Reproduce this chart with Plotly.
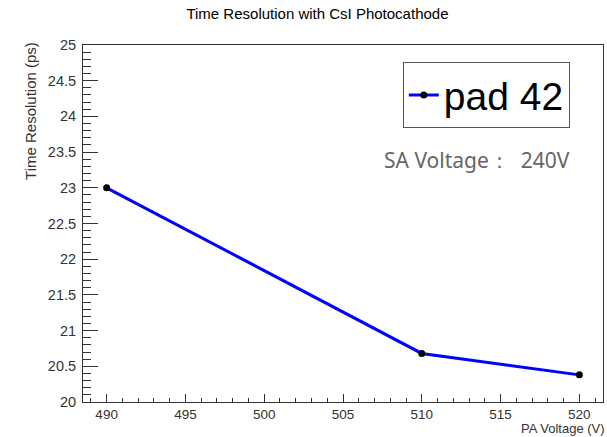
import plotly.graph_objects as go

pa_voltage = [490, 510, 520]
time_resolution = [23.0, 20.68, 20.38]
series_name = "pad 42"
title_text = "Time Resolution with CsI Photocathode"
x_title = "PA Voltage (V)"
y_title = "Time Resolution (ps)"
note_text = "SA Voltage：  240V"

fig = go.Figure()
fig.add_trace(go.Scatter(
    x=pa_voltage, y=time_resolution, mode="lines+markers", name=series_name,
    line=dict(color="#0000ff", width=3),
    marker=dict(color="black", size=7),
))

axis_font = dict(family="Liberation Sans, Arial, sans-serif", size=14.5, color="#333333")
fig.update_layout(
    width=607, height=437,
    margin=dict(l=83, r=4, t=45, b=35),
    paper_bgcolor="white", plot_bgcolor="white",
    showlegend=True,
    legend=dict(
        x=0.615, y=0.952, xanchor="left", yanchor="top",
        bordercolor="#555555", borderwidth=1, bgcolor="white",
        font=dict(family="Liberation Sans, Arial, sans-serif", size=39, color="black"),
        itemwidth=30, tracegroupgap=0,
    ),
    title=dict(text=title_text, x=0.523, xanchor="center", y=0.968, yanchor="middle",
               font=dict(family="Liberation Sans, Arial, sans-serif", size=15, color="black")),
    xaxis=dict(
        range=[488.5, 521.5], dtick=5, tick0=490,
        ticks="inside", ticklen=8, tickcolor="#333333",
        minor=dict(ticks="inside", dtick=1, ticklen=4, tickcolor="#333333"),
        showline=True, linecolor="#333333", linewidth=1, mirror=True,
        showgrid=False, zeroline=False,
        tickfont=dict(family="Liberation Sans, Arial, sans-serif", size=13.5, color="#333333"),
        ticklabelstandoff=0,
    ),
    yaxis=dict(
        range=[20, 25], dtick=0.5, tick0=20,
        ticks="inside", ticklen=15, tickcolor="#333333",
        minor=dict(ticks="inside", dtick=0.1, ticklen=8, tickcolor="#333333"),
        showline=True, linecolor="#333333", linewidth=1, mirror=True,
        showgrid=False, zeroline=False, tickfont=axis_font, ticklabelstandoff=3,
    ),
)

fig.add_annotation(text=y_title, xref="paper", yref="paper", x=-0.102, y=1.014,
                   xanchor="center", yanchor="top", textangle=-90, showarrow=False,
                   font=dict(family="Liberation Sans, Arial, sans-serif", size=15, color="#333333"))
fig.add_annotation(text=x_title, xref="paper", yref="paper", x=1.0, y=0, yshift=-18, xshift=3,
                   xanchor="right", yanchor="top", showarrow=False, borderpad=0,
                   font=dict(family="Liberation Sans, Arial, sans-serif", size=13, color="#333333"))
fig.add_annotation(text=note_text, xref="paper", yref="paper", x=0.575, y=0.678,
                   xanchor="left", yanchor="middle", showarrow=False,
                   font=dict(family="Noto Sans, Open Sans, sans-serif", size=21, color="#666666"))

fig.write_html("out.html")
